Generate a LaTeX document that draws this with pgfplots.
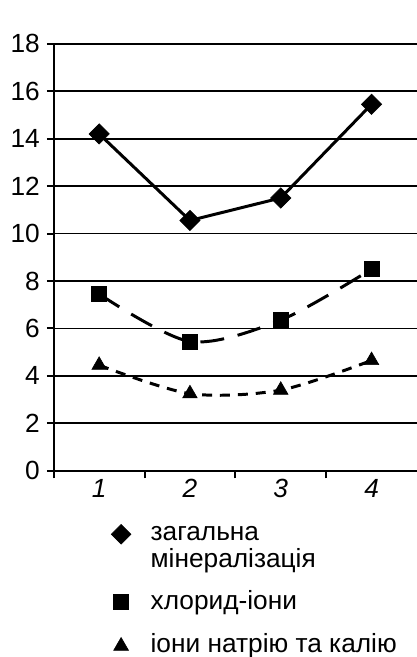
\documentclass[border=0pt]{standalone}
\usepackage{fontspec}
\setmainfont{Liberation Sans}
\usepackage{pgfplots}
\pgfplotsset{compat=1.18}
\newcommand{\fs}{\fontsize{13.2}{13.3}\selectfont}
\pgfplotsset{dotlegend/.style={legend image code/.code={\draw[##1] plot coordinates {(0pt,#1)};}}}
\begin{document}
\begin{tikzpicture}[font=\fs]
\begin{axis}[
  scale only axis,
  width=182.5pt, height=214.5pt,
  xmin=0.5, xmax=4.5, ymin=0, ymax=18,
  axis x line*=bottom, axis y line*=left,
  axis line style={line width=1pt, -},
  xtick={1,2,3,4},
  xticklabels={1,2,3,4},
  minor xtick={0.5,1.5,2.5,3.5},
  ytick={0,2,...,18},
  tick align=outside,
  major tick length=3.5pt, minor tick length=3.8pt,
  tick style={line width=1pt, black},
  every major x tick/.style={draw=none},
  ymajorgrids,
  major grid style={line width=0.9pt, black},
  /pgf/number format/assume math mode=true,
  ticklabel style={font=\fs},
  xticklabel style={font=\fs\itshape, yshift=2.75pt},
  legend cell align=left,
  legend style={draw=none, fill=none, inner sep=0pt, outer sep=0pt,
    at={(rel axis cs:0,0)}, anchor=north west, xshift=28.9pt, yshift=-25.94pt,
    font=\fs, cells={anchor=base west}, column sep=9.9pt, row sep=7.6pt,
    nodes={inner sep=0pt, text depth=}},
]
\addplot[forget plot, black, line width=1.5pt, mark=square*, mark size=3.6pt,
  mark options={solid, rotate=45, line width=0.3pt}]
  coordinates {(1,14.2) (2,10.55) (3,11.5) (4,15.45)};
\addplot[forget plot, black, line width=1.5pt, smooth, dash pattern=on 12pt off 7pt,
  mark=square*, mark size=3.7pt, mark options={solid, line width=0.3pt}]
  coordinates {(1,7.45) (2,5.45) (3,6.35) (4,8.5)};
\addplot[forget plot, black, line width=1.5pt, smooth, dash pattern=on 5pt off 4pt,
  mark=triangle*, mark size=4.2pt, mark options={solid, line width=0.3pt}]
  coordinates {(1,4.45) (2,3.25) (3,3.4) (4,4.65)};
\addlegendimage{dotlegend=3.3pt, black, mark=square*, mark size=3.5pt, mark options={solid, rotate=45, line width=0.3pt}}
\addlegendentry{\begin{tabular}[t]{@{}l@{}}загальна\\мінералізація\end{tabular}}
\addlegendimage{dotlegend=4.3pt, black, mark=square*, mark size=3.8pt, mark options={solid, line width=0.3pt}}
\addlegendentry{\strut хлорид-іони}
\addlegendimage{dotlegend=3pt, black, mark=triangle*, mark size=4.3pt, mark options={solid, line width=0.3pt}}
\addlegendentry{\strut іони натрію та калію}
\node[anchor=base, inner sep=0pt, xshift=-0.75pt, yshift=7pt] at (rel axis cs:0,1) {г/л};
\end{axis}
\pgfresetboundingbox
\path ([xshift=-27pt,yshift=-93.6pt]current axis.south west) rectangle ([yshift=22pt]current axis.north east);
\end{tikzpicture}
\end{document}
